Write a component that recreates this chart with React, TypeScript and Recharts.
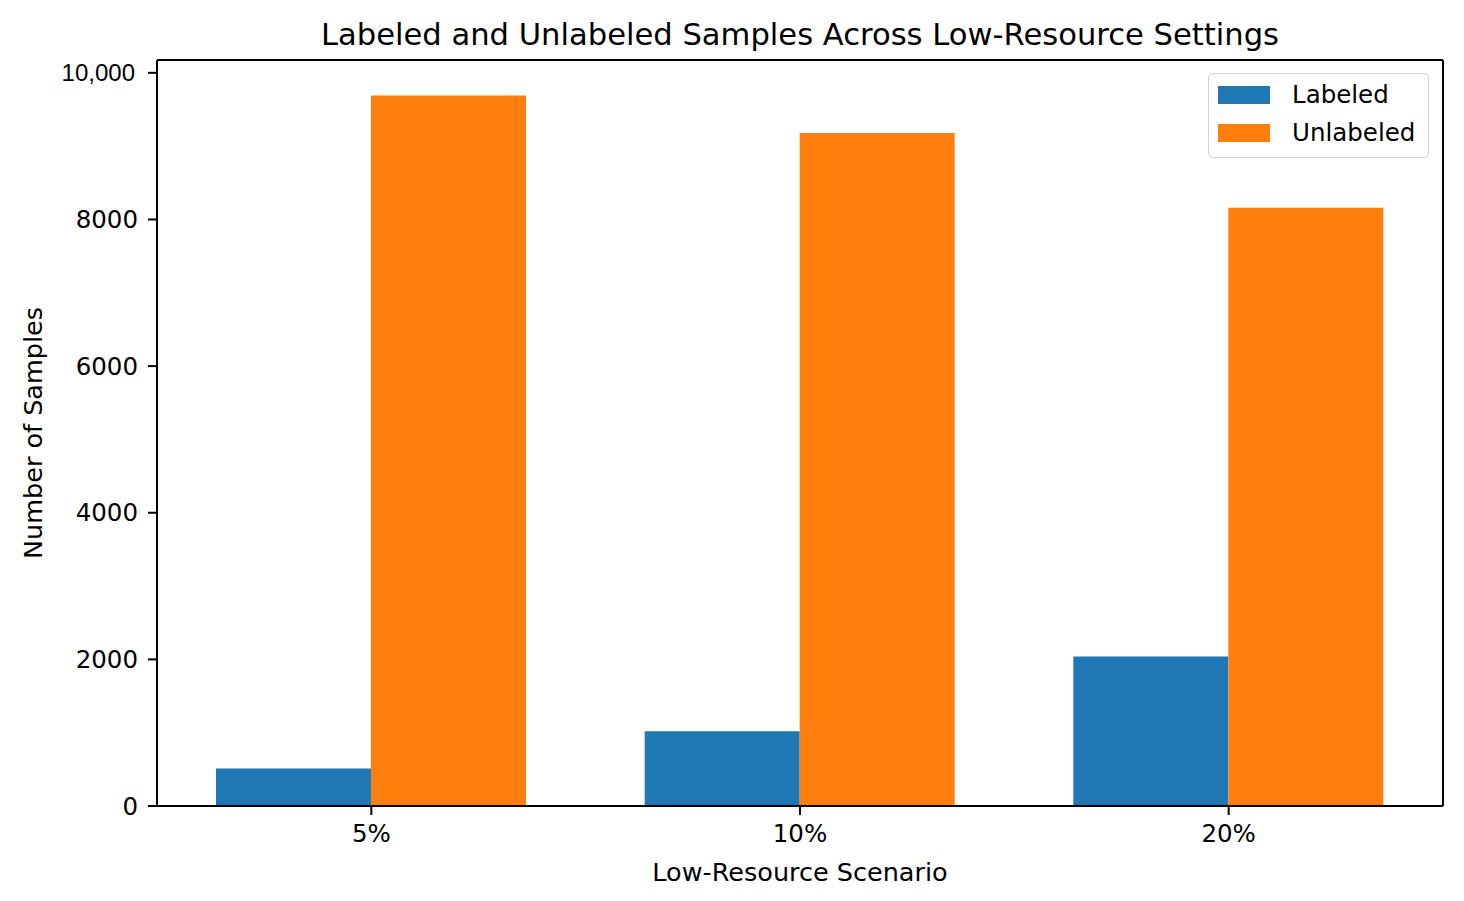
import { BarChart, Bar, XAxis, YAxis, Label } from "recharts";

const scenarios = ["5%", "10%", "20%"];
const labeledCounts = [510, 1020, 2040];
const unlabeledCounts = [9690, 9180, 8160];
const yTicks = [0, 2000, 4000, 6000, 8000, 10000];

const BLUE = "#1f77b4";
const ORANGE = "#ff7f0e";
const FONT = "'DejaVu Sans', sans-serif";
const FS = 24.5;
const LABEL_FS = 25.5;

const data = scenarios.map((s, i) => ({
  scenario: s,
  Labeled: labeledCounts[i],
  Unlabeled: unlabeledCounts[i],
}));

const series = [
  { key: "Labeled", color: BLUE },
  { key: "Unlabeled", color: ORANGE },
];

const yDomain = [0, 10175];

// matplotlib-ish legend frame, laid over the plot's top right corner
function LegendBox() {
  return (
    <div
      style={{
        position: "absolute",
        left: 1208,
        top: 73,
        width: 221,
        height: 85,
        boxSizing: "border-box",
        border: "1.5px solid #d3d3d3",
        borderRadius: 5,
        background: "#fff",
        fontFamily: FONT,
        fontSize: FS,
        color: "#000",
      }}
    >
      {series.map((s, i) => (
        <div key={s.key} style={{ position: "absolute", left: 0, top: 20.7 + i * 38.6 - 15, height: 30, width: "100%" }}>
          <div style={{ position: "absolute", left: 9, top: 6, width: 52, height: 18, background: s.color }} />
          <div style={{ position: "absolute", left: 83, top: 0, lineHeight: "30px", whiteSpace: "nowrap" }}>{s.key}</div>
        </div>
      ))}
    </div>
  );
}

function YTick(props: any) {
  const { x, y, payload } = props;
  const big = payload.value === 10000;
  return (
    <text
      x={big ? x - 3 : x}
      y={y}
      textAnchor="end"
      dominantBaseline="central"
      fill="#000"
      fontSize={big ? 24 : FS}
      fontFamily={big ? "'Liberation Sans', Arial, sans-serif" : FONT}
    >
      {big ? "10,000" : String(payload.value)}
    </text>
  );
}

export default function App() {
  return (
    <div style={{ position: "absolute", left: 0, top: 0, width: 1464, height: 901, background: "#fff" }}>
      <BarChart
        width={1464}
        height={901}
        data={data}
        margin={{ top: 59, right: 20, bottom: 0, left: 0 }}
        barGap={0}
        barSize={155}
        style={{ fontFamily: FONT }}
      >
        <XAxis
          dataKey="scenario"
          height={95}
          tickSize={9}
          tickMargin={10}
          axisLine={{ stroke: "#000", strokeWidth: 2 }}
          tickLine={{ stroke: "#000", strokeWidth: 2 }}
          tick={{ fill: "#000", fontSize: FS }}
        >
          <Label
            content={({ viewBox }: any) => (
              <text
                x={viewBox.x + viewBox.width / 2}
                y={viewBox.y + 66}
                textAnchor="middle"
                dominantBaseline="central"
                fontSize={LABEL_FS}
                fill="#000"
              >
                Low-Resource Scenario
              </text>
            )}
          />
        </XAxis>
        <XAxis
          xAxisId="top"
          dataKey="scenario"
          orientation="top"
          height={1}
          tick={false}
          tickLine={false}
          axisLine={{ stroke: "#000", strokeWidth: 2 }}
        >
          <Label
            content={({ viewBox }: any) => (
              <text
                x={viewBox.x + viewBox.width / 2}
                y={34}
                textAnchor="middle"
                dominantBaseline="central"
                fontSize={30.6}
                fill="#000"
              >
                Labeled and Unlabeled Samples Across Low-Resource Settings
              </text>
            )}
          />
        </XAxis>
        <YAxis
          width={157}
          domain={yDomain}
          ticks={yTicks}
          interval={0}
          allowDataOverflow
          tickSize={9}
          tickMargin={10}
          axisLine={{ stroke: "#000", strokeWidth: 2 }}
          tickLine={{ stroke: "#000", strokeWidth: 2 }}
          tick={<YTick />}
        >
          <Label
            content={({ viewBox }: any) => {
              const cx = 33;
              const cy = viewBox.y + viewBox.height / 2;
              return (
                <text
                  x={cx}
                  y={cy}
                  transform={`rotate(-90, ${cx}, ${cy})`}
                  textAnchor="middle"
                  dominantBaseline="central"
                  fontSize={LABEL_FS}
                  fill="#000"
                >
                  Number of Samples
                </text>
              );
            }}
          />
        </YAxis>
        <YAxis
          yAxisId="right"
          orientation="right"
          width={1}
          domain={yDomain}
          allowDataOverflow
          tick={false}
          tickLine={false}
          axisLine={{ stroke: "#000", strokeWidth: 2 }}
        />
        {series.map((s) => (
          <Bar key={s.key} dataKey={s.key} fill={s.color} isAnimationActive={false} />
        ))}
      </BarChart>
      <LegendBox />
    </div>
  );
}
